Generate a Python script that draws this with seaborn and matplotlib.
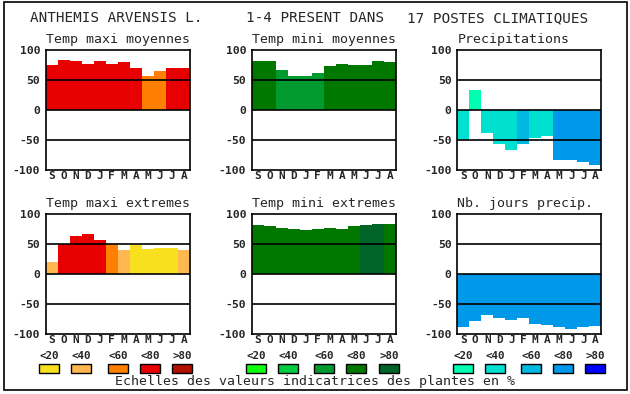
import pandas as pd
import matplotlib.pyplot as plt
import seaborn as sns
from matplotlib.patches import Rectangle

sns.set_style("white")
plt.rcParams['font.family'] = ['DejaVu Sans Mono', 'DejaVu Sans']

# month labels and colour scales
months = list("SONDJFMAMJJA")
scale_labels = ["<20", "<40", "<60", "<80", ">80"]
reds = ['#f8e020', '#ffb850', '#ff8000', '#e80000', '#b01000']
greens = ['#10ff10', '#00cc40', '#009a30', '#007800', '#006428']
blues = ['#00ffb0', '#00e0d0', '#00b8e0', '#0098e8', '#0000ff']

# values (%) and colour class (0=<20 ... 4=>80) per month
tmax_moy = [75, 83, 82, 77, 82, 77, 80, 70, 57, 65, 70, 70]
tmax_moy_cls = [3, 3, 3, 3, 3, 3, 3, 3, 2, 2, 3, 3]
tmin_moy = [82, 82, 67, 57, 57, 62, 73, 77, 75, 75, 82, 80]
tmin_moy_cls = [3, 3, 2, 2, 2, 2, 3, 3, 3, 3, 3, 3]
precip = [-50, 33, -38, -56, -66, -56, -46, -44, -83, -83, -86, -91]
precip_cls = [1, 0, 1, 1, 1, 2, 1, 1, 3, 3, 3, 3]
tmax_ext = [20, 50, 63, 67, 57, 50, 40, 48, 42, 43, 43, 40]
tmax_ext_cls = [1, 3, 3, 3, 3, 2, 1, 0, 0, 0, 0, 1]
tmin_ext = [82, 80, 77, 75, 73, 75, 77, 75, 80, 82, 83, 83]
tmin_ext_cls = [3, 3, 3, 3, 3, 3, 3, 3, 3, 4, 4, 3]
nb_jours = [-88, -78, -68, -74, -77, -74, -83, -85, -88, -91, -88, -86]
nb_jours_cls = [3] * 12

panels = [
    ("Temp maxi moyennes", tmax_moy, tmax_moy_cls, reds),
    ("Temp mini moyennes", tmin_moy, tmin_moy_cls, greens),
    ("Precipitations", precip, precip_cls, blues),
    ("Temp maxi extremes", tmax_ext, tmax_ext_cls, reds),
    ("Temp mini extremes", tmin_ext, tmin_ext_cls, greens),
    ("Nb. jours precip.", nb_jours, nb_jours_cls, blues),
]

W, H = 630, 394
fig = plt.figure(figsize=(W / 100, H / 100), dpi=100)

# overlay in pixel coordinates for frame, title and legend
bg = fig.add_axes([0, 0, 1, 1], zorder=-1)
bg.set_xlim(0, W)
bg.set_ylim(H, 0)
bg.axis('off')
bg.add_patch(Rectangle((4, 2), 623, 388, fill=False, edgecolor='black', lw=1.2))
bg.text(30, 18, "ANTHEMIS ARVENSIS L.", fontsize=10.3, va='center', ha='left')
bg.text(246, 18, "1-4 PRESENT DANS", fontsize=10.3, va='center', ha='left')
bg.text(407, 18, "17 POSTES CLIMATIQUES", fontsize=10.3, va='center', ha='left')

lefts = [45.7, 251.7, 457.3]
tops = [50, 214]
aw, ah = 144, 120

for i, (title, vals, cls, pal) in enumerate(panels):
    x0 = lefts[i % 3]
    y0 = tops[i // 3]
    ax = fig.add_axes([x0 / W, 1 - (y0 + ah) / H, aw / W, ah / H])
    df = pd.DataFrame({'pos': [str(k) for k in range(12)], 'val': vals})
    palette = {str(k): pal[c] for k, c in enumerate(cls)}
    sns.barplot(data=df, x='pos', y='val', hue='pos', palette=palette,
                width=1.0, saturation=1, linewidth=0, legend=False, ax=ax)
    for yv in (50, 0, -50):
        ax.axhline(yv, color='black', lw=1.2, zorder=5)
    ax.set_xlim(-0.5, 11.5)
    ax.set_ylim(-100, 100)
    ax.set_yticks([-100, -50, 0, 50, 100])
    ax.set_yticklabels(["-100", "-50", "0", "50", "100"], fontweight='bold', fontsize=8.2)
    ax.set_xticks(range(12))
    ax.set_xticklabels(months, fontweight='bold', fontsize=8)
    ax.tick_params(axis='y', length=0, pad=4)
    ax.tick_params(axis='x', length=0, pad=1)
    ax.set_xlabel("")
    ax.set_ylabel("")
    for sp in ax.spines.values():
        sp.set_color('black')
        sp.set_linewidth(1.2)
    ax.set_title(title, loc='left', fontsize=9.5, pad=5)

# colour scale legend
rect_x = [[39, 71, 108, 140, 172], [246, 278, 314, 346, 379], [453, 485, 521, 553, 585]]
for pal, xs in zip([reds, greens, blues], rect_x):
    for col, lab, x in zip(pal, scale_labels, xs):
        bg.add_patch(Rectangle((x, 364), 20, 9, facecolor=col, edgecolor='black', lw=1))
        bg.text(x + 10, 356, lab, fontsize=7.8, fontweight='bold', ha='center', va='center')
bg.text(315, 382, "Echelles des valeurs indicatrices des plantes en %",
        fontsize=9.5, ha='center', va='center')

fig.savefig('out.png', dpi=100)
